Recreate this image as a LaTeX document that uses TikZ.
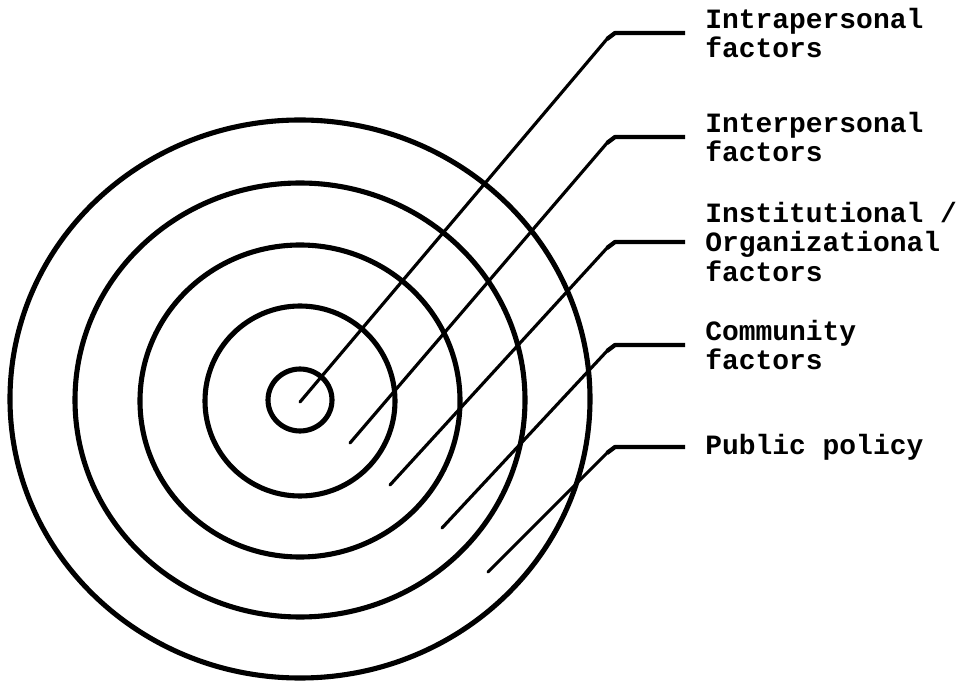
\documentclass[tikz,border=0pt]{standalone}
\usepackage{fontspec}
\newfontfamily\labelfont{Liberation Mono}
\begin{document}
\begin{tikzpicture}[
  ring/.style={line width=2.9pt},
  leader/.style={line width=1.8pt, line cap=round},
  tab/.style={line width=2.4pt, line join=round},
  lbl/.style={anchor=west, inner sep=0pt, align=left,
    font=\labelfont\bfseries\fontsize{15.9}{16.6}\selectfont}]
\useasboundingbox (-6,-5.66) rectangle (13.18,8);

%%%%%%%%%%% les anneaux
\draw[ring] (0,0) ellipse (0.64 and 0.62);
\draw[ring] (0,-0.02) circle (1.9);
\draw[ring] (0,-0.02) ellipse (3.2 and 3.12);
\draw[ring] (0,0) ellipse (4.5 and 4.34);
\draw[ring] (0,0.02) ellipse (5.8 and 5.58);

%%%%%%%%%%% les textes
\node[lbl] (intra) at (8.1,7.34) {Intrapersonal\\factors};
\node[lbl] (inter) at (8.1,5.26) {Interpersonal\\factors};
\node[lbl] (inst)  at (8.1,3.16) {Institutional /\\Organizational\\factors};
\node[lbl] (comm)  at (8.1,1.1)  {Community\\factors};
\node[lbl] (pol)   at (8.1,-0.94) {Public policy};

%%%%%%%%%%% les traits
\foreach \lab/\x/\y/\yy in {intra/0/-0.04/7.34, inter/1/-0.86/5.26,
    inst/1.8/-1.7/3.16, comm/2.84/-2.56/1.1, pol/3.76/-3.44/-0.94}{
  \coordinate (s-\lab) at (\x,\y);
  \coordinate (k-\lab) at (6.14,\yy-0.12);
  \draw[leader] (s-\lab) -- (k-\lab);
  \draw[tab] (k-\lab) -- ++(0.16,0.12) -- ([xshift=-4mm]\lab.west);
}
\end{tikzpicture}
\end{document}
